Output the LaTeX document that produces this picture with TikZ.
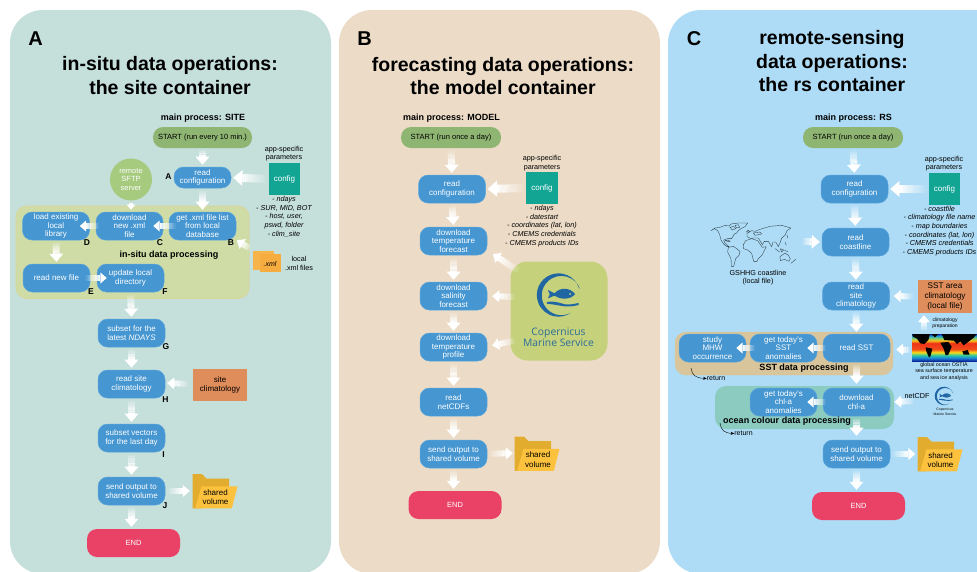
\documentclass[tikz,border=0pt]{standalone}
\usepackage{fontspec}
\setmainfont{Liberation Sans}
\newfontfamily\copfont{Open Sans}
\usetikzlibrary{calc,arrows.meta}
\definecolor{panA}{HTML}{C5DFDB}
\definecolor{panB}{HTML}{ECDCC7}
\definecolor{panC}{HTML}{AEDCF6}
\definecolor{bluebox}{HTML}{4596D1}
\definecolor{blueedge}{HTML}{5CA6DC}
\definecolor{startgreen}{HTML}{8FB573}
\definecolor{endred}{HTML}{EA4266}
\definecolor{teal}{HTML}{12A594}
\definecolor{orangebox}{HTML}{E08D5C}
\definecolor{sftpgreen}{HTML}{A6CA7E}
\definecolor{groupgreen}{HTML}{CFDCA6}
\definecolor{groupedge}{HTML}{D8D69B}
\definecolor{copgreen}{HTML}{C5D17B}
\definecolor{sandbox}{HTML}{D9C59C}
\definecolor{oceanbox}{HTML}{8CCBC0}
\definecolor{logoblue}{HTML}{1F66A3}
\definecolor{coptext}{HTML}{2B6C99}
\definecolor{folddark}{HTML}{E2AC2E}
\definecolor{foldlight}{HTML}{FCC23E}
\definecolor{xmlorange}{HTML}{F6B44A}
\definecolor{mapline}{HTML}{2A3A44}
\pgfdeclareverticalshading{sstshade}{100bp}{
 rgb(0bp)=(0.05,0.15,0.6);
 rgb(25bp)=(0.05,0.15,0.6);
 rgb(31bp)=(0.1,0.55,0.85);
 rgb(36bp)=(0.2,0.8,0.6);
 rgb(41bp)=(0.98,0.85,0.1);
 rgb(47bp)=(0.95,0.3,0.1);
 rgb(58bp)=(0.93,0.2,0.1);
 rgb(63bp)=(0.98,0.75,0.1);
 rgb(68bp)=(0.4,0.8,0.5);
 rgb(72bp)=(0.1,0.55,0.85);
 rgb(75bp)=(0.05,0.15,0.65);
 rgb(100bp)=(0.05,0.15,0.65)}
\tikzset{
 x=1pt,y=-1pt,
 panel/.style={rounded corners=33pt},
 box/.style={draw=blueedge,line width=.5pt,fill=bluebox,rounded corners=9.5pt,minimum width=67pt,minimum height=28pt,inner sep=0pt,align=center,text=white,font=\fontsize{8}{8.6}\selectfont},
 startbox/.style={fill=startgreen,rounded corners=10pt,minimum width=100pt,minimum height=21pt,inner sep=0pt,text=black,font=\fontsize{7.5}{8.5}\selectfont},
 endbox/.style={fill=endred,rounded corners=10pt,minimum width=93pt,minimum height=28pt,inner sep=0pt,text=white,font=\fontsize{7.5}{8.5}\selectfont},
 cfgbox/.style={fill=teal,minimum width=31.5pt,minimum height=32pt,inner sep=0pt,text=white,font=\fontsize{8}{8.6}\selectfont},
 clibox/.style={fill=orangebox,inner sep=0pt,align=center,text=black,font=\fontsize{8}{9.5}\selectfont},
 groupbox/.style={rounded corners=11pt},
 plain/.style={inner sep=0pt,align=center,font=\fontsize{7.2}{8.6}\selectfont},
 ital/.style={plain,font=\fontsize{7.2}{8.65}\selectfont\itshape},
 tiny/.style={plain,font=\fontsize{5}{6.3}\selectfont},
 mainproc/.style={inner sep=0pt,font=\fontsize{9}{10}\selectfont\bfseries},
 grouptitle/.style={inner sep=0pt,font=\fontsize{9}{10}\selectfont\bfseries},
 bigtitle/.style={inner sep=0pt,align=center,font=\fontsize{19.5}{23.5}\selectfont\bfseries},
 letter/.style={inner sep=0pt,font=\fontsize{20}{22}\selectfont\bfseries},
 steplabel/.style={inner sep=0pt,font=\fontsize{8.5}{9}\selectfont\bfseries},
 foldtext/.style={minimum width=44pt,minimum height=34pt,inner sep=0pt,align=center,text=black,font=\fontsize{8}{9.6}\selectfont},
 mapstroke/.style={draw=mapline,line width=.35pt,line join=round},
 thinret/.style={draw=black,line width=.4pt,-{Stealth[length=3.5pt,width=3pt]}},
}
% fading white arrow; optional argument = shaft width
\newcommand\flow[3][7]{%
 \coordinate (fz) at (#2);
 \coordinate (fy) at (#3);
 \coordinate (fa) at ($(fz)!2pt!(fy)$);
 \coordinate (fb) at ($(fy)!2pt!(fz)$);
 \pgfmathsetmacro\hl{#1*1.15}
 \pgfmathsetmacro\hh{#1*1.0}
 \coordinate (fh) at ($(fb)!\hl pt!(fa)$);
 \foreach \k in {0,...,11}{%
  \pgfmathsetmacro\st{\k/12}\pgfmathsetmacro\en{(\k+1)/12}\pgfmathsetmacro\op{0.08+0.08*\k}
  \draw[white,line width=#1pt,opacity=\op] ($(fa)!\st!(fh)$) -- ($(fa)!\en!(fh)$);
 }
 \fill[white] (fb) -- ($(fh)!\hh pt!90:(fb)$) -- ($(fh)!\hh pt!-90:(fb)$) -- cycle;
}
% Copernicus logo: centre x, centre y, scale (units of 1/3 px at .333)
\newcommand\cmlogo[3]{%
 \begin{scope}[shift={(#1,#2)},x=#3pt,y=#3pt]
  \fill[logoblue] (20:65) arc (20:305:65) -- (305:65) arc (299:20:59) -- cycle;
  \fill[logoblue] (50,3) .. controls (35,22) and (5,25) .. (-12,5) -- (-32,15) .. controls (-25,2) .. (-32,-10) -- (-12,-2) .. controls (10,-15) and (35,-15) .. (50,3) -- cycle;
  \fill[copgreen] (35,3) circle (3);
  \fill[logoblue] (-35,-21) .. controls (-10,-17) and (10,-26) .. (20,-28) .. controls (35,-30) and (50,-26) .. (60,-24) -- (60,-30) .. controls (40,-35) and (25,-36) .. (5,-32) .. controls (-10,-29) and (-20,-28) .. (-35,-26) -- cycle;
 \end{scope}%
}
\newcommand\folder[2]{%
 \begin{scope}[shift={(#1,#2)},x=.3333pt,y=-.3333pt]
  \fill[folddark] (0,0) -- (28,0) -- (42,14) -- (110,14) -- (110,40) -- (26,103) -- (0,103) -- cycle;
  \fill[foldlight] (27,37) -- (135,37) -- (118,103) -- (8,103) -- cycle;
 \end{scope}%
}
\begin{document}
\begin{tikzpicture}
\useasboundingbox (0,0) rectangle (977,571);
\clip (0,0) rectangle (977,571);
\fill[white] (0,0) rectangle (977,571);
\fill[panA,panel] (10,10) rectangle (331,574);
\fill[panB,panel] (339,10) rectangle (660,574);
\fill[panC,panel] (668,10) rectangle (1020,574);

% ---------- panel A
\node[letter] (la) at (35.5,38.5) {A};
\node[bigtitle] (ta) at (170,75.5) {in-situ data operations:\\the site container};
\node[mainproc] (ma) at (203,118) {main process: SITE};
\draw[groupedge,fill=groupgreen,groupbox,line width=.8pt] (16,206) rectangle (249,298.5);
\node[startbox,minimum width=99pt] (starta) at (202.5,137.5) {START (run every 10 min.)};
\node[box,minimum width=57pt,minimum height=21pt] (confa) at (202.5,177.5) {read\\configuration};
\node[cfgbox] (cfga) at (284.5,179) {config};
\node[plain] (appa) at (284,153.5) {app-specific\\parameters};
\node[ital] (ita) at (284,216.8) {- ndays\\- SUR, MID, BOT\\- host, user,\\pswd, folder\\- clim\_site};
\node[circle,fill=sftpgreen,minimum size=42pt,inner sep=0pt,align=center,text=white,font=\fontsize{7.5}{8.6}\selectfont] (sftp) at (131,179.5) {remote\\SFTP\\server};
\node[box] (loada) at (56,226) {load existing\\local\\library};
\node[box] (dla) at (129.5,226) {download\\new .xml\\file};
\node[box] (geta) at (202.5,226) {get .xml file list\\from local\\database};
\node[grouptitle] (gta) at (169,255) {in-situ data processing};
\node[box] (newa) at (56.5,278) {read new file};
\node[box] (upa) at (130.5,278) {update local\\directory};
\node[box] (suba) at (131.5,333) {subset for the\\latest \textit{NDAYS}};
\node[box] (clima) at (131.5,384) {read site\\climatology};
\node[box] (veca) at (131.5,438) {subset vectors\\for the last day};
\node[box] (senda) at (131.5,491) {send output to\\shared volume};
\node[endbox] (enda) at (133.5,543) {END};
\node[clibox,minimum width=54pt,minimum height=32pt] (clia) at (220,385) {site\\climatology};
\fill[xmlorange] (253,251) rectangle (274,270);
\fill[xmlorange!85!orange] (259.5,254) rectangle (281,272);
\node[inner sep=0pt,font=\fontsize{7}{8}\selectfont\itshape] (xmla) at (270,263.5) {.xml};
\node[plain] (lxa) at (299,263.5) {local\\.xml files};
\folder{192.5}{474}
\node[foldtext] (folda) at (215,500) {};
\node[foldtext,minimum height=0pt] (foldta) at (215.5,497) {shared\\volume};
\node[steplabel] (sa) at (168.5,177) {A};
\node[steplabel] (sb) at (231,243) {B};
\node[steplabel] (sc) at (160,243) {C};
\node[steplabel] (sd) at (87,243) {D};
\node[steplabel] (se) at (91,292) {E};
\node[steplabel] (sf) at (165,292) {F};
\node[steplabel] (sg) at (166,347) {G};
\node[steplabel] (sh) at (165.5,400) {H};
\node[steplabel] (si) at (163.5,454.5) {I};
\node[steplabel] (sj) at (165,506) {J};
\flow{starta.south}{confa.north}
\flow[8]{cfga.west}{confa.east}
\flow{confa.south}{geta.north}
\flow[4.5]{$(sftp.south)$}{$(dla.north)+(1.5,0)$}
\flow[5.5]{$(geta.west)+(9,0)$}{$(dla.east)+(-12,0)$}
\flow[5.5]{$(dla.west)+(5,0)$}{$(loada.east)+(-12,0)$}
\flow{loada.south}{newa.north}
\flow[5.5]{$(newa.east)+(-7,0)$}{$(upa.west)+(12,0)$}
\flow{upa.south}{suba.north}
\flow{suba.south}{clima.north}
\flow[6]{$(clia.west)+(-2,-1)$}{$(clima.east)+(0,-1)$}
\flow{clima.south}{veca.north}
\flow{veca.south}{senda.north}
\flow[6]{senda.east}{$(folda.west)+(-1,-9)$}
\flow{senda.south}{senda.south |- enda.north}
\coordinate (xtail) at (252,250);
\flow[6]{xtail}{$(geta.south east)+(-1,-1)$}

% ---------- panel B
\node[letter] (lb) at (364.5,38.5) {B};
\node[bigtitle] (tb) at (503,76) {forecasting data operations:\\the model container};
\node[mainproc] (mb) at (451.5,118) {main process: MODEL};
\node[startbox] (startb) at (451,137.5) {START (run once a day)};
\node[box] (confb) at (452,189) {read\\configuration};
\node[cfgbox] (cfgb) at (542,188) {config};
\node[plain] (appb) at (542,163.3) {app-specific\\parameters};
\node[ital] (itb) at (542,226) {- ndays\\- datestart\\- coordinates (lat, lon)\\- CMEMS credentials\\- CMEMS products IDs};
\node[box] (dtb) at (453.5,241) {download\\temperature\\forecast};
\node[box] (dsb) at (453.5,296) {download\\salinity\\forecast};
\node[box] (dpb) at (453.5,347) {download\\temperature\\profile};
\node[box] (ncb) at (453.5,402) {read\\netCDFs};
\node[box] (sendb) at (453.5,454) {send output to\\shared volume};
\node[endbox] (endb) at (455,505) {END};
\node[fill=copgreen,rounded corners=17pt,minimum width=97pt,minimum height=99pt,inner sep=0pt] (cop) at (559,311) {};
\cmlogo{558.5}{295}{.3333}
\node[inner sep=0pt,align=center,text=coptext,font=\fontsize{10.3}{11.5}\selectfont\copfont] (copt) at (558.5,337.5) {Copernicus\\Marine Service};
\folder{514.5}{436.5}
\node[foldtext] (foldb) at (537,453) {};
\node[foldtext,minimum height=0pt] (foldtb) at (538,459.5) {shared\\volume};
\flow{startb.south}{$(confb.north)$}
\flow[8]{cfgb.west}{confb.east}
\flow{confb.south}{dtb.north}
\flow{dtb.south}{dsb.north}
\flow{dsb.south}{dpb.north}
\flow{dpb.south}{ncb.north}
\flow{ncb.south}{sendb.north}
\flow{sendb.south}{sendb.south |- endb.north}
\coordinate (copa) at (520,272);
\coordinate (copb) at (517,297);
\coordinate (copc) at (517,340);
\flow[6]{copa}{$(dtb.east)+(4,12)$}
\flow[6]{copb}{$(dsb.east)+(3,0)$}
\flow[6]{copc}{$(dpb.east)+(3,-1)$}
\flow[6]{sendb.east}{foldb.west}

% ---------- panel C
\node[letter] (lc) at (694,38.5) {C};
\node[bigtitle] (tc) at (832,61.5) {remote-sensing\\data operations:\\the rs container};
\node[mainproc] (mc) at (853.5,118) {main process: RS};
\draw[sandbox,fill=sandbox,groupbox] (675,332) rectangle (893,375);
\fill[oceanbox,groupbox] (715,386) rectangle (894,429);
\node[startbox] (startc) at (853,137.5) {START (run once a day)};
\node[box] (confc) at (854.5,189) {read\\configuration};
\node[cfgbox] (cfgc) at (944.5,189) {config};
\node[plain] (appc) at (944,163.5) {app-specific\\parameters};
\node[ital] (itc) at (939.5,231) {- coastfile\\- climatology file name\\- map boundaries\\- coordinates (lat, lon)\\- CMEMS credentials\\- CMEMS products IDs};
\node[box] (coastc) at (855.5,242) {read\\coastline};
\node[box] (climc) at (856,296) {read\\site\\climatology};
\node[clibox,font=\fontsize{8.2}{9.6}\selectfont,minimum width=54pt,minimum height=33pt] (clic) at (945,296.5) {SST area\\climatology\\(local file)};
\node[box] (readsst) at (856.5,348) {read SST};
\node[box] (getsst) at (783.5,348) {get today's\\SST\\anomalies};
\node[box] (mhw) at (712.5,348) {study\\MHW\\occurrence};
\node[grouptitle] (gts) at (804,368) {SST data processing};
\node[box] (getchl) at (783.5,402) {get today's\\chl-a\\anomalies};
\node[box] (dlchl) at (856.5,402) {download\\chl-a};
\node[grouptitle] (gto) at (787,421) {ocean colour data processing};
\node[box] (sendc) at (856.5,454) {send output to\\shared volume};
\node[endbox] (endc) at (858.5,506) {END};
\node[inner sep=0pt,font=\fontsize{7}{8}\selectfont] (ret1) at (716,378.5) {return};
\coordinate (rs1) at (691,368);
\draw[thinret] (rs1) .. controls (692,375) and (695,378) .. (ret1.west);
\node[inner sep=0pt,font=\fontsize{7}{8}\selectfont] (ret2) at (743.5,433.5) {return};
\coordinate (rs2) at (720,423);
\draw[thinret] (rs2) .. controls (721,430) and (724,433) .. (ret2.west);
% world map
\begin{scope}[shift={(705,218)},x=.3333pt,y=-.3333pt]
 \draw[mapstroke] (18,38) -- (30,30) -- (45,28) -- (60,22) -- (72,24) -- (78,18) -- (100,15) -- (128,15) -- (120,26) -- (108,32) -- (100,38) -- (95,45) -- (88,48) -- (80,62) -- (68,62) -- (56,66) -- (60,76) -- (72,86) -- (66,86) -- (56,78) -- (48,66) -- (44,50) -- (38,38) -- (28,32) -- cycle;
 \draw[mapstroke] (75,28) -- (85,25) -- (92,32) -- (82,36) -- cycle (90,22) -- (100,20) -- (104,28) -- (94,30) -- cycle;
 \draw[mapstroke] (70,88) -- (85,85) -- (95,92) -- (105,100) -- (102,112) -- (92,122) -- (86,145) -- (79,145) -- (78,122) -- (68,102) -- cycle;
 \draw[mapstroke] (60,68) -- (68,66) -- (76,70) -- (68,70) -- cycle;
 \draw[mapstroke] (122,68) -- (140,62) -- (158,68) -- (172,88) -- (184,86) -- (172,110) -- (160,122) -- (156,130) -- (146,130) -- (140,106) -- (128,96) -- (116,92) -- (115,80) -- cycle;
 \draw[mapstroke] (126,46) -- (140,38) -- (150,40) -- (165,34) -- (195,25) -- (230,22) -- (258,30) -- (246,38) -- (240,52) -- (230,60) -- (226,72) -- (220,86) -- (212,72) -- (204,72) -- (200,86) -- (190,70) -- (178,70) -- (172,80) -- (160,60) -- (146,60) -- (138,62) -- (126,56) -- cycle;
 \draw[mapstroke] (124,42) -- (130,36) -- (134,42) -- cycle (145,45) -- (165,42) -- (170,48) -- (150,52) -- cycle;
 \draw[mapstroke] (225,116) -- (240,105) -- (250,112) -- (256,122) -- (252,130) -- (238,124) -- (226,128) -- cycle;
 \draw[mapstroke] (210,92) -- (224,102) (226,92) -- (236,96) -- (230,102) -- cycle (238,96) -- (250,102) (240,72) -- (244,82) (246,50) -- (248,60) (258,136) -- (272,124);
\end{scope}
\node[plain] (gsh) at (758,277.5) {GSHHG coastline\\(local file)};
\coordinate (mapr) at (800,241.5);
% SST raster
\shade[shading=sstshade] (912,334) rectangle (977,361);
\begin{scope}[shift={(905,328)},x=.3333pt,y=-.3333pt]
 \fill[black] (22,18) -- (75,18) -- (70,36) -- (58,48) -- (46,46) -- (36,32) -- (24,26) -- cycle;
 \fill[black] (78,18) -- (100,18) -- (90,28) -- cycle;
 \fill[black] (110,18) -- (215,18) -- (205,30) -- (192,40) -- (176,52) -- (166,40) -- (156,48) -- (146,38) -- (118,36) -- cycle;
 \fill[black] (106,44) -- (130,42) -- (140,56) -- (130,80) -- (122,82) -- (116,62) -- cycle;
 \fill[black] (62,58) -- (82,62) -- (76,86) -- (72,88) -- (64,70) -- cycle;
 \fill[black] (172,70) -- (188,66) -- (194,80) -- (176,80) -- cycle;
\end{scope}
\node[tiny] (prep) at (945,323) {climatology\\preparation};
\coordinate (sstr) at (912,349.5);
\coordinate (rastertop) at (924,333);
\node[plain,font=\fontsize{5.3}{6.5}\selectfont] (sstt) at (944,371.5) {global ocean OSTIA\\sea surface temperature\\and sea ice analysis};
\node[inner sep=0pt,font=\fontsize{7.2}{8}\selectfont] (nc) at (917,396) {netCDF};
\cmlogo{944}{396}{.143}
\node[plain,font=\fontsize{3.4}{5}\selectfont] (cops) at (945,411.5) {Copernicus\\Marine Service};
\coordinate (logor) at (916,401);
\folder{917.5}{437}
\node[foldtext] (foldc) at (939.5,454) {};
\node[foldtext,minimum height=0pt] (foldtc) at (940.5,460) {shared\\volume};
\flow{startc.south}{confc.north}
\flow[8]{cfgc.west}{confc.east}
\flow{confc.south}{coastc.north}
\flow[7]{mapr}{coastc.west}
\flow{coastc.south}{climc.north}
\flow[6]{$(clic.west)+(-2,0)$}{$(climc.east)+(2,0)$}
\flow{climc.south}{readsst.north}
\flow[6]{rastertop}{$(clic.south west)+(6,0)$}
\flow[5.5]{$(readsst.west)+(5,0)$}{$(getsst.east)+(-12,0)$}
\flow[5.5]{$(getsst.west)+(7,0)$}{$(mhw.east)+(-12,0)$}
\flow[6]{sstr}{$(readsst.east)+(4,1.5)$}
\flow{$(readsst.south)$}{$(dlchl.north)+(0,-2)$}
\flow[5.5]{$(dlchl.west)+(5,0)$}{$(getchl.east)+(-12,0)$}
\flow[6]{logor}{$(dlchl.east)+(2,0)$}
\flow{dlchl.south}{$(sendc.north)+(0,-2)$}
\flow{sendc.south}{sendc.south |- endc.north}
\flow[6]{sendc.east}{foldc.west}
\end{tikzpicture}
\end{document}
